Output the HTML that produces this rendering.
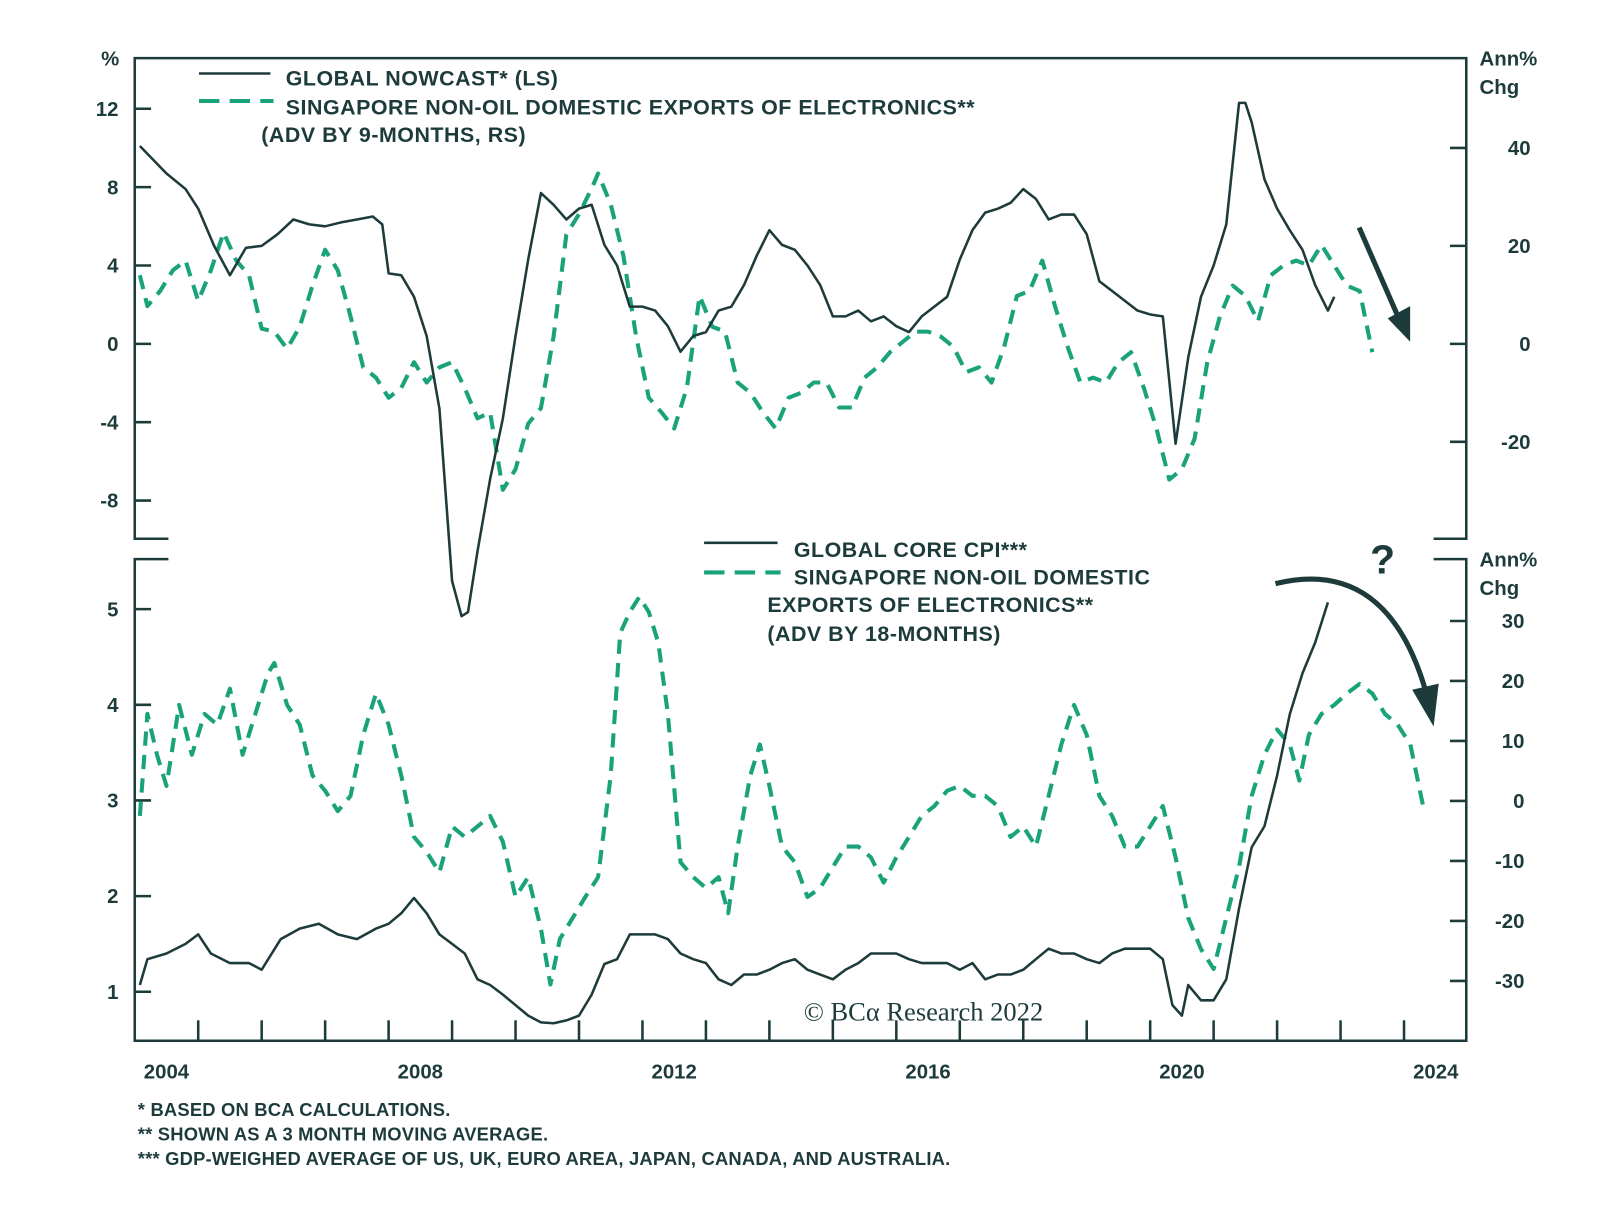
<!DOCTYPE html>
<html><head><meta charset="utf-8"><style>
body{margin:0;background:#fff}
svg{display:block;font-family:"Liberation Sans",sans-serif;font-weight:bold}
</style></head><body>
<svg id="c" width="1600" height="1205" viewBox="0 0 1568 1181">
<g id="frame" fill="none" stroke="#1e3b3b" stroke-width="2.5">
<path d="M165,528 L132,528 L132,57 L1437,57 L1437,528 L1405,528"/>
<path d="M165,548 L132,548 L132,1020 L1437,1020 L1437,548 L1405,548"/>
</g>
<g id="axes"></g>
<g id="series"></g>
<g fill="#1e3b3b" font-size="21" letter-spacing="0.5">
<line x1="195" y1="72" x2="265" y2="72" stroke="#1e3b3b" stroke-width="2.5"/>
<line x1="195" y1="99" x2="268" y2="99" stroke="#1aa37a" stroke-width="4" stroke-dasharray="20,10"/>
<text x="280" y="84">GLOBAL NOWCAST* (LS)</text>
<text x="280" y="112">SINGAPORE NON-OIL DOMESTIC EXPORTS OF ELECTRONICS**</text>
<text x="256" y="139">(ADV BY 9-MONTHS, RS)</text>
</g>
<g fill="#1e3b3b" font-size="21" letter-spacing="0.5">
<line x1="690" y1="532" x2="762" y2="532" stroke="#1e3b3b" stroke-width="2.5"/>
<line x1="690" y1="561" x2="765" y2="561" stroke="#1aa37a" stroke-width="4" stroke-dasharray="20,10"/>
<text x="778" y="546">GLOBAL CORE CPI***</text>
<text x="778" y="573">SINGAPORE NON-OIL DOMESTIC</text>
<text x="752" y="600">EXPORTS OF ELECTRONICS**</text>
<text x="752" y="628">(ADV BY 18-MONTHS)</text>
</g>
<g fill="#1e3b3b" font-size="20">
<text x="108" y="64" text-anchor="middle">%</text>
<text x="1450" y="64">Ann%</text>
<text x="1450" y="92">Chg</text>
<text x="1450" y="555">Ann%</text>
<text x="1450" y="583">Chg</text>
<text x="1355" y="562" font-size="40" text-anchor="middle">?</text>
<text x="905" y="1000" font-family="Liberation Serif,serif" font-weight="normal" font-size="26" text-anchor="middle">© BCα Research 2022</text>
<text x="135" y="1094" font-size="18" letter-spacing="0.2">*   BASED ON BCA CALCULATIONS.</text>
<text x="135" y="1118" font-size="18" letter-spacing="0.2">** SHOWN AS A 3 MONTH MOVING AVERAGE.</text>
<text x="135" y="1142" font-size="18" letter-spacing="0.2">*** GDP-WEIGHED AVERAGE OF US, UK, EURO AREA, JAPAN, CANADA, AND AUSTRALIA.</text>
</g>
<g fill="none" stroke="#1e3b3b" stroke-width="5">
<line x1="1332" y1="223" x2="1370" y2="310"/>
<polygon points="1360,312 1382,335 1382,300" fill="#1e3b3b" stroke="none"/>
<path d="M1250,572 Q1360,545 1398,680"/>
<polygon points="1384,676 1405,712 1410,670" fill="#1e3b3b" stroke="none"/>
</g>
</svg>
<script>
const topNowT=[2004.08,2004.5,2004.8,2005.0,2005.25,2005.5,2005.75,2006.0,2006.25,2006.5,2006.75,2007.0,2007.25,2007.5,2007.75,2007.9,2008.0,2008.2,2008.4,2008.6,2008.8,2009.0,2009.15,2009.25,2009.4,2009.6,2009.8,2010.0,2010.2,2010.4,2010.6,2010.8,2011.0,2011.2,2011.4,2011.6,2011.8,2012.0,2012.2,2012.4,2012.6,2012.8,2013.0,2013.2,2013.4,2013.6,2013.8,2014.0,2014.2,2014.4,2014.6,2014.8,2015.0,2015.2,2015.4,2015.6,2015.8,2016.0,2016.2,2016.4,2016.6,2016.8,2017.0,2017.2,2017.4,2017.6,2017.8,2018.0,2018.2,2018.4,2018.6,2018.8,2019.0,2019.2,2019.4,2019.6,2019.8,2020.0,2020.2,2020.4,2020.6,2020.8,2021.0,2021.2,2021.4,2021.5,2021.6,2021.8,2022.0,2022.2,2022.4,2022.6,2022.8,2022.9];
const topNowV=[10.1,8.7,7.9,6.9,5.0,3.5,4.9,5.0,5.6,6.35,6.1,6.0,6.2,6.35,6.5,6.1,3.6,3.5,2.4,0.4,-3.3,-12.1,-13.9,-13.7,-10.6,-6.9,-3.8,0.4,4.3,7.7,7.1,6.35,6.9,7.1,5.05,4.0,1.9,1.9,1.7,0.9,-0.4,0.4,0.6,1.7,1.9,3.0,4.5,5.8,5.05,4.8,4.0,3.0,1.4,1.4,1.7,1.15,1.4,0.9,0.6,1.4,1.9,2.4,4.3,5.8,6.7,6.9,7.2,7.9,7.4,6.35,6.6,6.6,5.6,3.2,2.7,2.2,1.7,1.5,1.4,-5.1,-0.7,2.4,4.0,6.1,12.3,12.3,11.3,8.4,6.9,5.8,4.8,3.0,1.7,2.4];
const topSgT=[2004.08,2004.2,2004.4,2004.6,2004.8,2005.0,2005.2,2005.4,2005.6,2005.8,2006.0,2006.2,2006.4,2006.6,2006.8,2007.0,2007.2,2007.4,2007.6,2007.8,2008.0,2008.2,2008.4,2008.6,2008.8,2009.0,2009.2,2009.4,2009.6,2009.8,2010.0,2010.2,2010.4,2010.6,2010.8,2011.0,2011.2,2011.3,2011.5,2011.7,2011.9,2012.1,2012.3,2012.5,2012.7,2012.9,2013.1,2013.3,2013.5,2013.7,2013.9,2014.1,2014.3,2014.5,2014.7,2014.9,2015.1,2015.3,2015.5,2015.7,2015.9,2016.1,2016.3,2016.5,2016.7,2016.9,2017.1,2017.3,2017.5,2017.7,2017.9,2018.1,2018.3,2018.5,2018.7,2018.9,2019.1,2019.3,2019.5,2019.7,2019.9,2020.1,2020.3,2020.5,2020.7,2020.9,2021.1,2021.3,2021.5,2021.7,2021.9,2022.1,2022.3,2022.5,2022.7,2022.9,2023.1,2023.3,2023.5];
const topSgV=[14,7.7,10.8,15,17,8.75,15,22.7,17,14,3.1,2.5,-1,3.5,11.9,19.2,15,5.6,-4.8,-6.9,-11,-9,-3.75,-7.9,-4.8,-3.75,-9,-15.2,-14,-29.8,-25.6,-16.3,-13.1,1.5,22.3,26.5,31.7,34.8,28.5,18,1.5,-11,-14,-17.3,-9,9.8,3.5,2.5,-7.9,-10,-14,-17.3,-11,-10,-7.9,-7.9,-13,-13,-6.9,-4.8,-1.7,0.4,2.5,2.5,1.5,-0.6,-5.8,-4.8,-7.9,-0.6,9.8,10.8,17,7.7,-0.6,-7.9,-6.9,-7.9,-3.75,-1.7,-9,-17.3,-27.7,-25.6,-19.4,-3.75,5.6,11.9,9.8,4.6,14,16,17,16,20.2,16,11.9,10.8,-1.7];
const botCpiT=[2004.08,2004.2,2004.5,2004.8,2005.0,2005.2,2005.5,2005.8,2006.0,2006.3,2006.6,2006.9,2007.2,2007.5,2007.8,2008.0,2008.2,2008.4,2008.6,2008.8,2009.0,2009.2,2009.4,2009.6,2009.8,2010.0,2010.2,2010.4,2010.6,2010.8,2011.0,2011.2,2011.4,2011.6,2011.8,2012.0,2012.2,2012.4,2012.6,2012.8,2013.0,2013.2,2013.4,2013.6,2013.8,2014.0,2014.2,2014.4,2014.6,2014.8,2015.0,2015.2,2015.4,2015.6,2015.8,2016.0,2016.2,2016.4,2016.6,2016.8,2017.0,2017.2,2017.4,2017.6,2017.8,2018.0,2018.2,2018.4,2018.6,2018.8,2019.0,2019.2,2019.4,2019.6,2019.8,2020.0,2020.2,2020.35,2020.5,2020.6,2020.8,2021.0,2021.2,2021.4,2021.6,2021.8,2022.0,2022.2,2022.4,2022.6,2022.8];
const botCpiV=[1.07,1.34,1.4,1.5,1.6,1.4,1.3,1.3,1.23,1.55,1.66,1.71,1.6,1.55,1.66,1.71,1.82,1.98,1.82,1.6,1.5,1.4,1.13,1.07,0.97,0.86,0.75,0.68,0.67,0.7,0.75,0.97,1.29,1.34,1.6,1.6,1.6,1.55,1.4,1.34,1.3,1.13,1.07,1.18,1.18,1.23,1.3,1.34,1.23,1.18,1.13,1.23,1.3,1.4,1.4,1.4,1.34,1.3,1.3,1.3,1.23,1.3,1.13,1.18,1.18,1.23,1.34,1.45,1.4,1.4,1.34,1.3,1.4,1.45,1.45,1.45,1.34,0.86,0.75,1.07,0.91,0.91,1.13,1.87,2.51,2.73,3.26,3.9,4.33,4.65,5.07];
const botSgT=[2004.08,2004.2,2004.35,2004.5,2004.7,2004.9,2005.1,2005.3,2005.5,2005.7,2005.9,2006.1,2006.2,2006.4,2006.6,2006.8,2007.0,2007.2,2007.4,2007.6,2007.8,2008.0,2008.2,2008.4,2008.6,2008.8,2009.0,2009.2,2009.4,2009.6,2009.8,2010.0,2010.2,2010.4,2010.55,2010.7,2010.9,2011.1,2011.3,2011.5,2011.65,2011.8,2011.95,2012.1,2012.25,2012.4,2012.6,2012.8,2013.0,2013.2,2013.35,2013.5,2013.7,2013.85,2014.0,2014.2,2014.4,2014.6,2014.8,2015.0,2015.2,2015.4,2015.6,2015.8,2016.0,2016.2,2016.4,2016.6,2016.8,2017.0,2017.2,2017.4,2017.6,2017.8,2018.0,2018.2,2018.4,2018.6,2018.8,2019.0,2019.2,2019.4,2019.6,2019.8,2020.0,2020.2,2020.4,2020.6,2020.8,2021.0,2021.2,2021.4,2021.6,2021.8,2022.0,2022.2,2022.35,2022.5,2022.7,2022.9,2023.1,2023.3,2023.5,2023.7,2023.9,2024.1,2024.3];
const botSgV=[-2.5,14.5,7.7,2.5,16,7.7,14.5,12.7,18.7,7.7,14.5,21.3,23,16,12.7,4.25,1.7,-1.7,0.85,11,17.9,12.7,4.25,-6,-8.5,-11.9,-4.25,-6,-4.25,-2.5,-6.8,-16,-12.7,-21.3,-30.6,-23,-19.5,-16,-12.7,4.25,28,31.5,34,31.5,26.4,14.5,-10.2,-12.7,-14.5,-12.7,-18.7,-7.6,4.25,9.4,2.5,-7.6,-10.2,-16,-14.5,-11,-7.6,-7.6,-9.4,-13.6,-9.4,-6,-2.5,-0.85,1.7,2.5,0.85,0.85,-0.85,-6,-4.25,-7.6,0.85,9.4,16,11,0.85,-2.5,-7.6,-7.6,-4.25,-0.85,-9.4,-19.5,-24.7,-28,-19.5,-11,0.85,7.7,11.9,9.4,3.4,11,14.5,16,17.9,19.5,17.9,14.5,12.7,9.4,-0.85];
const xYears=[2004,2008,2012,2016,2020,2024];
const topLeftTicks=[12,8,4,0,-4,-8];
const topRightTicks=[40,20,0,-20];
const botLeftTicks=[5,4,3,2,1];
const botRightTicks=[30,20,10,0,-10,-20,-30];

const NS="http://www.w3.org/2000/svg";
const x=t=>132+(t-2004)*62.2;
const yTL=v=>337-v*19.2, yTR=v=>337-v*4.8;
const yBL=v=>972-(v-1)*93.75, yBR=v=>785-v*5.88;
const axes=document.getElementById('axes'), ser=document.getElementById('series');
function mk(tag,attrs,parent){const e=document.createElementNS(NS,tag);for(const k in attrs)e.setAttribute(k,attrs[k]);parent.appendChild(e);return e;}
const C="#1e3b3b";
topLeftTicks.forEach(v=>{const y=yTL(v);
 const l=mk('line',{x1:132,x2:148,y1:y,y2:y,stroke:C,'stroke-width':2.5},axes);
 
 
 const t=mk('text',{x:116,y:y+7,'text-anchor':'end',fill:C,'font-size':20},axes);t.textContent=v;
 
 });
topRightTicks.forEach(v=>{const y=yTR(v);
 const l=mk('line',{x1:1421,x2:1437,y1:y,y2:y,stroke:C,'stroke-width':2.5},axes);
 
 
 const t=mk('text',{x:1500,y:y+7,'text-anchor':'end',fill:C,'font-size':20},axes);t.textContent=v;
 
 });
botLeftTicks.forEach(v=>{const y=yBL(v);
 const l=mk('line',{x1:132,x2:148,y1:y,y2:y,stroke:C,'stroke-width':2.5},axes);
 
 
 const t=mk('text',{x:116,y:y+7,'text-anchor':'end',fill:C,'font-size':20},axes);t.textContent=v;
 
 });
botRightTicks.forEach(v=>{const y=yBR(v);
 const l=mk('line',{x1:1421,x2:1437,y1:y,y2:y,stroke:C,'stroke-width':2.5},axes);
 
 
 const t=mk('text',{x:1494,y:y+7,'text-anchor':'end',fill:C,'font-size':20},axes);t.textContent=v;
 
 });
for(let yr=2005;yr<=2024;yr++){const xx=x(yr);
 const l=mk('line',{x1:xx,x2:xx,y1:1000,y2:1020,stroke:C,'stroke-width':2.5},axes);
 
 }
xYears.forEach(yr=>{const t=mk('text',{x:x(yr+0.5),y:1057,'text-anchor':'middle',fill:C,'font-size':20},axes);t.textContent=yr;
 
 });
function line(T,V,fy,color,dash,name){
 const d=T.map((t,i)=>(i?'L':'M')+x(t).toFixed(1)+','+fy(V[i]).toFixed(1)).join(' ');
 const p=mk('path',{d:d,fill:'none',stroke:color,'stroke-width':dash?4:2.5,'stroke-linejoin':'round'},ser);
 if(dash)p.setAttribute('stroke-dasharray','14,9');
 
 }
line(topSgT,topSgV,yTR,'#1aa37a',true,'top-sg-exports-line');
line(topNowT,topNowV,yTL,C,false,'global-nowcast-line');
line(botSgT,botSgV,yBR,'#1aa37a',true,'bottom-sg-exports-line');
line(botCpiT,botCpiV,yBL,C,false,'global-core-cpi-line');
</script>
</body></html>
